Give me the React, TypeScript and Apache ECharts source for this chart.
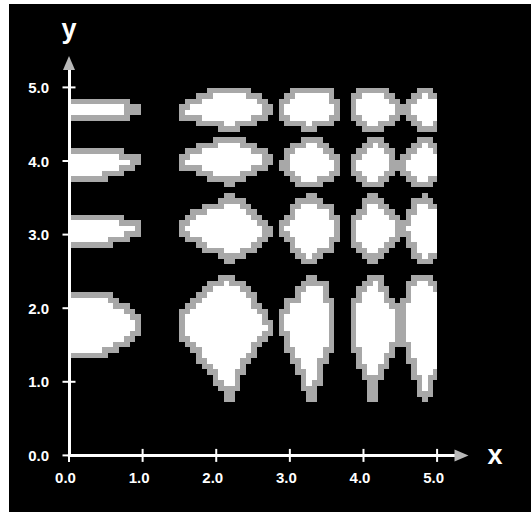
import React, { useEffect, useRef } from 'react';
import * as echarts from 'echarts';

// Axis ticks and extents (data units)
const tickValues = [0, 1, 2, 3, 4, 5];
const axisEnd = 5.25;
const plotClip = [0, 5];

// Pixel grid of the bitmap shapes (data units)
const cellSize = 0.075;
const cellOffset = [0, 0.045];

// Blob outlines, one list of [x, y] vertices per blob (outer edge of the gray rim)
const blobsRow5 = [
  [[-0.2, 4.84], [0.78, 4.84], [0.78, 4.76], [0.94, 4.76], [0.94, 4.61], [0.78, 4.61], [0.78, 4.55], [-0.2, 4.55]],
  [[2.03, 4.99], [2.34, 4.99], [2.5, 4.92], [2.64, 4.84], [2.73, 4.76], [2.73, 4.61], [2.64, 4.55], [2.5, 4.5], [2.34, 4.45], [2.03, 4.45], [1.8, 4.5], [1.64, 4.55], [1.49, 4.61], [1.49, 4.76], [1.64, 4.84], [1.8, 4.92]],
  [[3.05, 4.99], [3.5, 4.99], [3.59, 4.92], [3.64, 4.84], [3.64, 4.55], [3.59, 4.5], [3.36, 4.45], [3.36, 4.39], [3.2, 4.39], [3.2, 4.45], [2.98, 4.5], [2.9, 4.55], [2.9, 4.84], [2.98, 4.92]],
  [[3.98, 4.99], [4.29, 4.99], [4.36, 4.92], [4.44, 4.84], [4.44, 4.55], [4.36, 4.5], [4.29, 4.45], [4.21, 4.45], [4.21, 4.39], [4.05, 4.39], [4.05, 4.45], [3.98, 4.45], [3.9, 4.5], [3.82, 4.55], [3.82, 4.84], [3.9, 4.92]],
  [[4.76, 4.99], [4.9, 4.99], [4.98, 4.92], [5.2, 4.84], [5.2, 4.5], [4.98, 4.45], [4.9, 4.39], [4.76, 4.39], [4.72, 4.45], [4.67, 4.5], [4.61, 4.55], [4.53, 4.61], [4.53, 4.76], [4.61, 4.84], [4.67, 4.92]],
];

const blobsRow4 = [
  [[-0.2, 4.14], [0.72, 4.14], [0.72, 4.07], [0.94, 4.07], [0.94, 3.91], [0.78, 3.91], [0.78, 3.85], [0.56, 3.85], [0.56, 3.75], [-0.2, 3.75]],
  [[2.03, 4.3], [2.34, 4.3], [2.5, 4.22], [2.64, 4.14], [2.73, 4.07], [2.73, 3.91], [2.58, 3.85], [2.43, 3.78], [2.25, 3.71], [2.25, 3.64], [2.11, 3.64], [2.11, 3.71], [1.87, 3.78], [1.73, 3.85], [1.49, 3.91], [1.49, 4.07], [1.64, 4.14], [1.8, 4.22]],
  [[3.2, 4.3], [3.36, 4.3], [3.5, 4.22], [3.59, 4.14], [3.64, 4.07], [3.64, 3.85], [3.59, 3.78], [3.5, 3.71], [3.36, 3.64], [3.2, 3.64], [3.05, 3.71], [2.98, 3.78], [2.9, 3.85], [2.9, 4.07], [2.98, 4.14], [3.05, 4.22]],
  [[4.05, 4.3], [4.21, 4.3], [4.29, 4.22], [4.36, 4.14], [4.44, 4.07], [4.44, 3.85], [4.36, 3.78], [4.29, 3.71], [4.21, 3.64], [4.05, 3.64], [3.98, 3.71], [3.9, 3.78], [3.82, 3.85], [3.82, 4.07], [3.9, 4.14], [3.98, 4.22]],
  [[4.76, 4.3], [4.9, 4.3], [4.98, 4.22], [5.2, 4.14], [5.2, 3.78], [4.98, 3.71], [4.9, 3.64], [4.76, 3.64], [4.67, 3.71], [4.61, 3.78], [4.53, 3.85], [4.53, 4.07], [4.61, 4.14], [4.67, 4.22]],
];

const blobsRow3 = [
  [[-0.2, 3.26], [0.72, 3.26], [0.72, 3.19], [0.94, 3.19], [0.94, 2.97], [0.78, 2.97], [0.78, 2.9], [0.56, 2.9], [0.56, 2.81], [-0.2, 2.81]],
  [[2.11, 3.51], [2.25, 3.51], [2.41, 3.42], [2.5, 3.34], [2.58, 3.26], [2.73, 3.13], [2.73, 2.97], [2.66, 2.9], [2.58, 2.81], [2.41, 2.74], [2.25, 2.65], [2.25, 2.59], [2.11, 2.59], [2.11, 2.65], [1.96, 2.74], [1.8, 2.81], [1.64, 2.9], [1.49, 2.97], [1.49, 3.19], [1.64, 3.26], [1.73, 3.34], [1.96, 3.42]],
  [[3.2, 3.51], [3.36, 3.51], [3.5, 3.42], [3.59, 3.34], [3.64, 3.26], [3.64, 2.9], [3.59, 2.81], [3.5, 2.74], [3.36, 2.65], [3.36, 2.59], [3.2, 2.59], [3.2, 2.65], [3.05, 2.74], [2.98, 2.9], [2.9, 2.97], [2.9, 3.19], [2.98, 3.26], [3.05, 3.42]],
  [[4.05, 3.51], [4.21, 3.51], [4.29, 3.42], [4.36, 3.34], [4.44, 3.26], [4.44, 2.9], [4.36, 2.81], [4.29, 2.74], [4.21, 2.65], [4.21, 2.59], [4.05, 2.59], [4.05, 2.65], [3.98, 2.74], [3.9, 2.81], [3.82, 2.9], [3.82, 3.19], [3.9, 3.26], [3.98, 3.42]],
  [[4.76, 3.51], [4.9, 3.51], [4.98, 3.42], [5.2, 3.34], [5.2, 2.74], [4.98, 2.65], [4.9, 2.59], [4.76, 2.59], [4.72, 2.65], [4.67, 2.74], [4.61, 2.9], [4.53, 2.97], [4.53, 3.19], [4.61, 3.26], [4.67, 3.42]],
];

const blobsRow2 = [
  [[-0.2, 2.18], [0.56, 2.18], [0.72, 2.08], [0.86, 1.97], [0.94, 1.88], [0.94, 1.66], [0.8, 1.52], [0.62, 1.42], [0.4, 1.33], [-0.2, 1.33]],
  [[2.03, 2.41], [2.25, 2.41], [2.43, 2.26], [2.57, 2.11], [2.66, 1.96], [2.73, 1.88], [2.73, 1.63], [2.57, 1.46], [2.43, 1.27], [2.34, 1.1], [2.25, 0.78], [2.11, 0.78], [2.03, 0.93], [1.96, 1.04], [1.87, 1.18], [1.73, 1.34], [1.64, 1.49], [1.49, 1.63], [1.49, 1.96], [1.73, 2.17]],
  [[3.24, 2.4], [3.4, 2.4], [3.5, 2.31], [3.55, 2.15], [3.61, 2.02], [3.61, 1.61], [3.55, 1.43], [3.48, 1.25], [3.42, 1.02], [3.36, 0.77], [3.24, 0.77], [3.19, 0.93], [3.11, 1.11], [3.05, 1.25], [2.96, 1.45], [2.89, 1.63], [2.89, 1.95], [2.96, 2.09], [3.05, 2.15], [3.11, 2.25], [3.19, 2.31]],
  [[4.05, 2.41], [4.21, 2.41], [4.29, 2.33], [4.36, 2.17], [4.44, 2.11], [4.44, 1.45], [4.36, 1.31], [4.29, 1.13], [4.21, 1.0], [4.21, 0.78], [4.05, 0.78], [4.05, 1.0], [3.98, 1.13], [3.9, 1.31], [3.82, 1.49], [3.82, 2.04], [3.9, 2.17], [3.98, 2.33]],
  [[4.67, 2.41], [4.9, 2.41], [4.98, 2.33], [5.2, 2.1], [5.2, 1.3], [4.98, 1.04], [4.9, 0.78], [4.76, 0.78], [4.72, 0.95], [4.67, 1.1], [4.61, 1.31], [4.53, 1.5], [4.53, 2.04], [4.61, 2.33]],
];

const blobs = [...blobsRow5, ...blobsRow4, ...blobsRow3, ...blobsRow2];

const GRAY = '#a8a8a8';
const WHITE = '#ffffff';
const FONT = '"Liberation Sans", Arial, Helvetica, sans-serif';

function insidePoly(poly: number[][], x: number, y: number) {
  let inside = false;
  for (let i = 0, j = poly.length - 1; i < poly.length; j = i++) {
    const xi = poly[i][0], yi = poly[i][1];
    const xj = poly[j][0], yj = poly[j][1];
    if ((yi > y) !== (yj > y) && x < ((xj - xi) * (y - yi)) / (yj - yi) + xi) inside = !inside;
  }
  return inside;
}

type Run = { state: number; x0: number; x1: number; y0: number; y1: number };

function rasterize(poly: number[][]): Run[] {
  const s = cellSize;
  const ox = cellOffset[0], oy = cellOffset[1];
  const xs = poly.map((p) => p[0]);
  const ys = poly.map((p) => p[1]);
  const i0 = Math.floor((Math.min(...xs) - ox) / s) - 1;
  const i1 = Math.ceil((Math.max(...xs) - ox) / s) + 1;
  const j0 = Math.floor((Math.min(...ys) - oy) / s) - 1;
  const j1 = Math.ceil((Math.max(...ys) - oy) / s) + 1;
  const cache = new Map<string, boolean>();
  // a cell belongs to the shape when at least a third of it is covered
  const inCell = (i: number, j: number) => {
    const key = i + ',' + j;
    const hit = cache.get(key);
    if (hit !== undefined) return hit;
    let count = 0;
    for (let a = 0; a < 3; a++) {
      for (let b = 0; b < 3; b++) {
        if (insidePoly(poly, ox + (i + (a + 0.5) / 3) * s, oy + (j + (b + 0.5) / 3) * s)) count++;
      }
    }
    const res = count >= 3;
    cache.set(key, res);
    return res;
  };
  const runs: Run[] = [];
  for (let j = j0; j <= j1; j++) {
    let cur: Run | null = null;
    for (let i = i0; i <= i1; i++) {
      let state = 0;
      if (inCell(i, j)) {
        state = 2;
        for (let di = -1; di <= 1 && state === 2; di++) {
          for (let dj = -1; dj <= 1; dj++) {
            if ((di || dj) && !inCell(i + di, j + dj)) {
              state = 1;
              break;
            }
          }
        }
      }
      const xL = Math.max(ox + i * s, plotClip[0]);
      const xR = Math.min(ox + (i + 1) * s, plotClip[1]);
      if (xR <= xL) state = 0;
      if (state && cur && cur.state === state && Math.abs(cur.x1 - xL) < 1e-9) {
        cur.x1 = xR;
      } else if (state) {
        cur = { state, x0: xL, x1: xR, y0: oy + j * s, y1: oy + (j + 1) * s };
        runs.push(cur);
      } else {
        cur = null;
      }
    }
  }
  return runs;
}

const blobRuns = blobs.map(rasterize);

export default function App() {
  const ref = useRef<HTMLDivElement>(null);

  useEffect(() => {
    if (!ref.current) return;
    const chart = echarts.init(ref.current, null, { renderer: 'svg' });

    const axisCommon = {
      type: 'value',
      min: 0,
      max: axisEnd,
      z: 10,
      splitLine: { show: false },
      axisTick: { show: false },
      axisLine: { show: true, onZero: false, lineStyle: { color: WHITE, width: 3 } },
      nameLocation: 'end',
    };

    chart.setOption({
      animation: false,
      backgroundColor: '#000000',
      grid: { left: 60, top: 65, width: 386.5, height: 386.4, containLabel: false },
      xAxis: {
        ...axisCommon,
        name: 'x',
        nameGap: 32,
        nameTextStyle: { color: WHITE, fontSize: 27, fontWeight: 'bold', fontFamily: FONT, padding: [0, 0, 4, 0] },
        axisLabel: {
          customValues: tickValues,
          formatter: (v: number) => v.toFixed(1),
          color: WHITE,
          fontSize: 15,
          fontWeight: 'bold',
          fontFamily: FONT,
          margin: 15,
          padding: [0, 7, 0, 0],
        },
      },
      yAxis: {
        ...axisCommon,
        name: 'y',
        nameGap: 27,
        nameTextStyle: { color: WHITE, fontSize: 27, fontWeight: 'bold', fontFamily: FONT },
        axisLabel: {
          customValues: tickValues,
          formatter: (v: number) => v.toFixed(1),
          color: WHITE,
          fontSize: 15,
          fontWeight: 'bold',
          fontFamily: FONT,
          margin: 20,
        },
      },
      series: [
        {
          type: 'custom',
          z: 1,
          silent: true,
          clip: false,
          data: blobs.map((b) => b[0]),
          renderItem: (params: any, api: any) => {
            const runs = blobRuns[params.dataIndex];
            const children = runs.map((r) => {
              const a = api.coord([r.x0, r.y1]);
              const b = api.coord([r.x1, r.y0]);
              const x = Math.round(a[0]);
              const y = Math.round(a[1]);
              return {
                type: 'rect',
                shape: { x, y, width: Math.round(b[0]) - x, height: Math.round(b[1]) - y },
                style: { fill: r.state === 2 ? WHITE : GRAY },
              };
            });
            return { type: 'group', children };
          },
        },
        {
          type: 'custom',
          z: 12,
          silent: true,
          clip: false,
          data: [...tickValues.map((v) => [v, 0]), ...tickValues.map((v) => [0, v])],
          renderItem: (params: any, api: any) => {
            const p = api.coord([api.value(0), api.value(1)]);
            const vertical = params.dataIndex < tickValues.length;
            const shape = vertical
              ? { x1: p[0], y1: p[1] - 6.5, x2: p[0], y2: p[1] + 6.5 }
              : { x1: p[0] - 6.5, y1: p[1], x2: p[0] + 6.5, y2: p[1] };
            return { type: 'line', shape, style: { stroke: WHITE, lineWidth: 2 } };
          },
        },
        {
          type: 'custom',
          z: 12,
          silent: true,
          clip: false,
          data: [[axisEnd, 0], [0, axisEnd]],
          renderItem: (params: any, api: any) => {
            const p = api.coord([api.value(0), api.value(1)]);
            const pts =
              params.dataIndex === 0
                ? [[p[0] - 1, p[1] - 6], [p[0] + 13, p[1]], [p[0] - 1, p[1] + 6]]
                : [[p[0] - 6, p[1] + 1], [p[0], p[1] - 13], [p[0] + 6, p[1] + 1]];
            return { type: 'polygon', shape: { points: pts }, style: { fill: '#b8b8b8' } };
          },
        },
      ],
    });

    return () => chart.dispose();
  }, []);

  return (
    <div
      ref={ref}
      style={{ position: 'fixed', left: 9, top: 4, width: 522, height: 508 }}
    />
  );
}
